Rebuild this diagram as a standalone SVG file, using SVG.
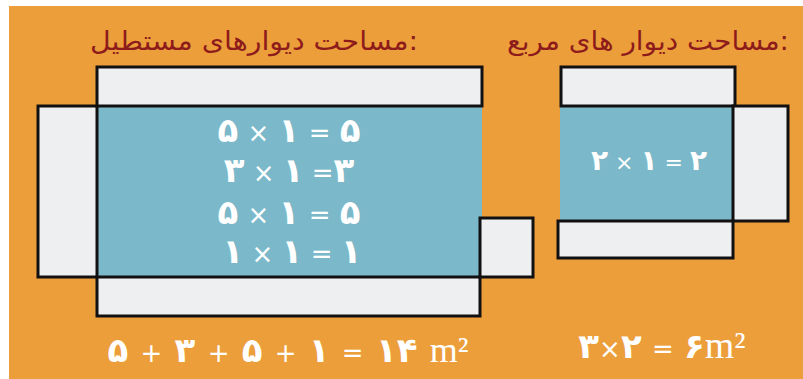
<svg xmlns="http://www.w3.org/2000/svg" width="803" height="379" viewBox="0 0 803 379">
<style>
.bg{fill:#EC9E3A}
.blue{fill:#7BB8C9}
.gray{fill:#EEEFF1;stroke:#111;stroke-width:3}
.title{font-family:"DejaVu Sans",sans-serif;font-size:26px;fill:#8E1B1B;text-anchor:middle}
.eq{font-family:"DejaVu Sans",sans-serif;font-size:26px;fill:#fff;text-anchor:middle}
.d{font-weight:bold;font-size:34px}
.m{font-family:"Liberation Serif",serif;font-size:34px}
</style>
<rect width="803" height="379" fill="#fff"/>
<rect class="bg" x="9" y="6" width="794" height="373"/>
<text class="title" x="254" y="50" textLength="328" lengthAdjust="spacingAndGlyphs">مساحت دیوارهای مستطیل:</text>
<text class="title" x="648" y="50" textLength="282" lengthAdjust="spacingAndGlyphs">مساحت دیوار های مربع:</text>
<g id="rect-net">
<rect class="blue" x="97" y="106" width="385" height="171"/>
<rect class="gray" x="38" y="106" width="59" height="171"/>
<rect class="gray" x="97" y="67" width="385" height="39"/>
<rect class="gray" x="97" y="277" width="383" height="39"/>
<rect class="gray" x="480" y="218" width="53" height="59"/>
<text class="eq" x="289" y="142" word-spacing="1"><tspan class="d">۵</tspan> × <tspan class="d">۱</tspan> = <tspan class="d">۵</tspan></text>
<text class="eq" x="289" y="182"><tspan class="d">۳</tspan> × <tspan class="d">۱</tspan> =<tspan class="d">۳</tspan></text>
<text class="eq" x="289" y="224" word-spacing="1"><tspan class="d">۵</tspan> × <tspan class="d">۱</tspan> = <tspan class="d">۵</tspan></text>
<text class="eq" x="292" y="263"><tspan class="d">۱</tspan> × <tspan class="d">۱</tspan> = <tspan class="d">۱</tspan></text>
</g>
<g id="square-net">
<rect class="blue" x="560" y="106" width="173" height="115"/>
<rect class="gray" x="561" y="67" width="174" height="39"/>
<rect class="gray" x="733" y="106" width="55" height="115"/>
<rect class="gray" x="558" y="221" width="175" height="37"/>
<text class="eq" x="649" y="170" style="font-size:22px"><tspan class="d" style="font-size:28px">۲</tspan> × <tspan class="d" style="font-size:28px">۱</tspan> = <tspan class="d" style="font-size:28px">۲</tspan></text>
</g>
<g id="totals">
<text class="eq" x="288" y="362" word-spacing="4"><tspan class="d">۵</tspan> + <tspan class="d">۳</tspan> + <tspan class="d">۵</tspan> + <tspan class="d">۱</tspan> = <tspan class="d">۱۴</tspan> <tspan class="m" style="font-size:36px">m²</tspan></text>
<text class="eq" x="662" y="358" word-spacing="2"><tspan class="d">۳</tspan>×<tspan class="d">۲</tspan> = <tspan class="d">۶</tspan><tspan class="m" style="font-size:38px">m²</tspan></text>
</g>
<g id="connectors"/>
</svg>
